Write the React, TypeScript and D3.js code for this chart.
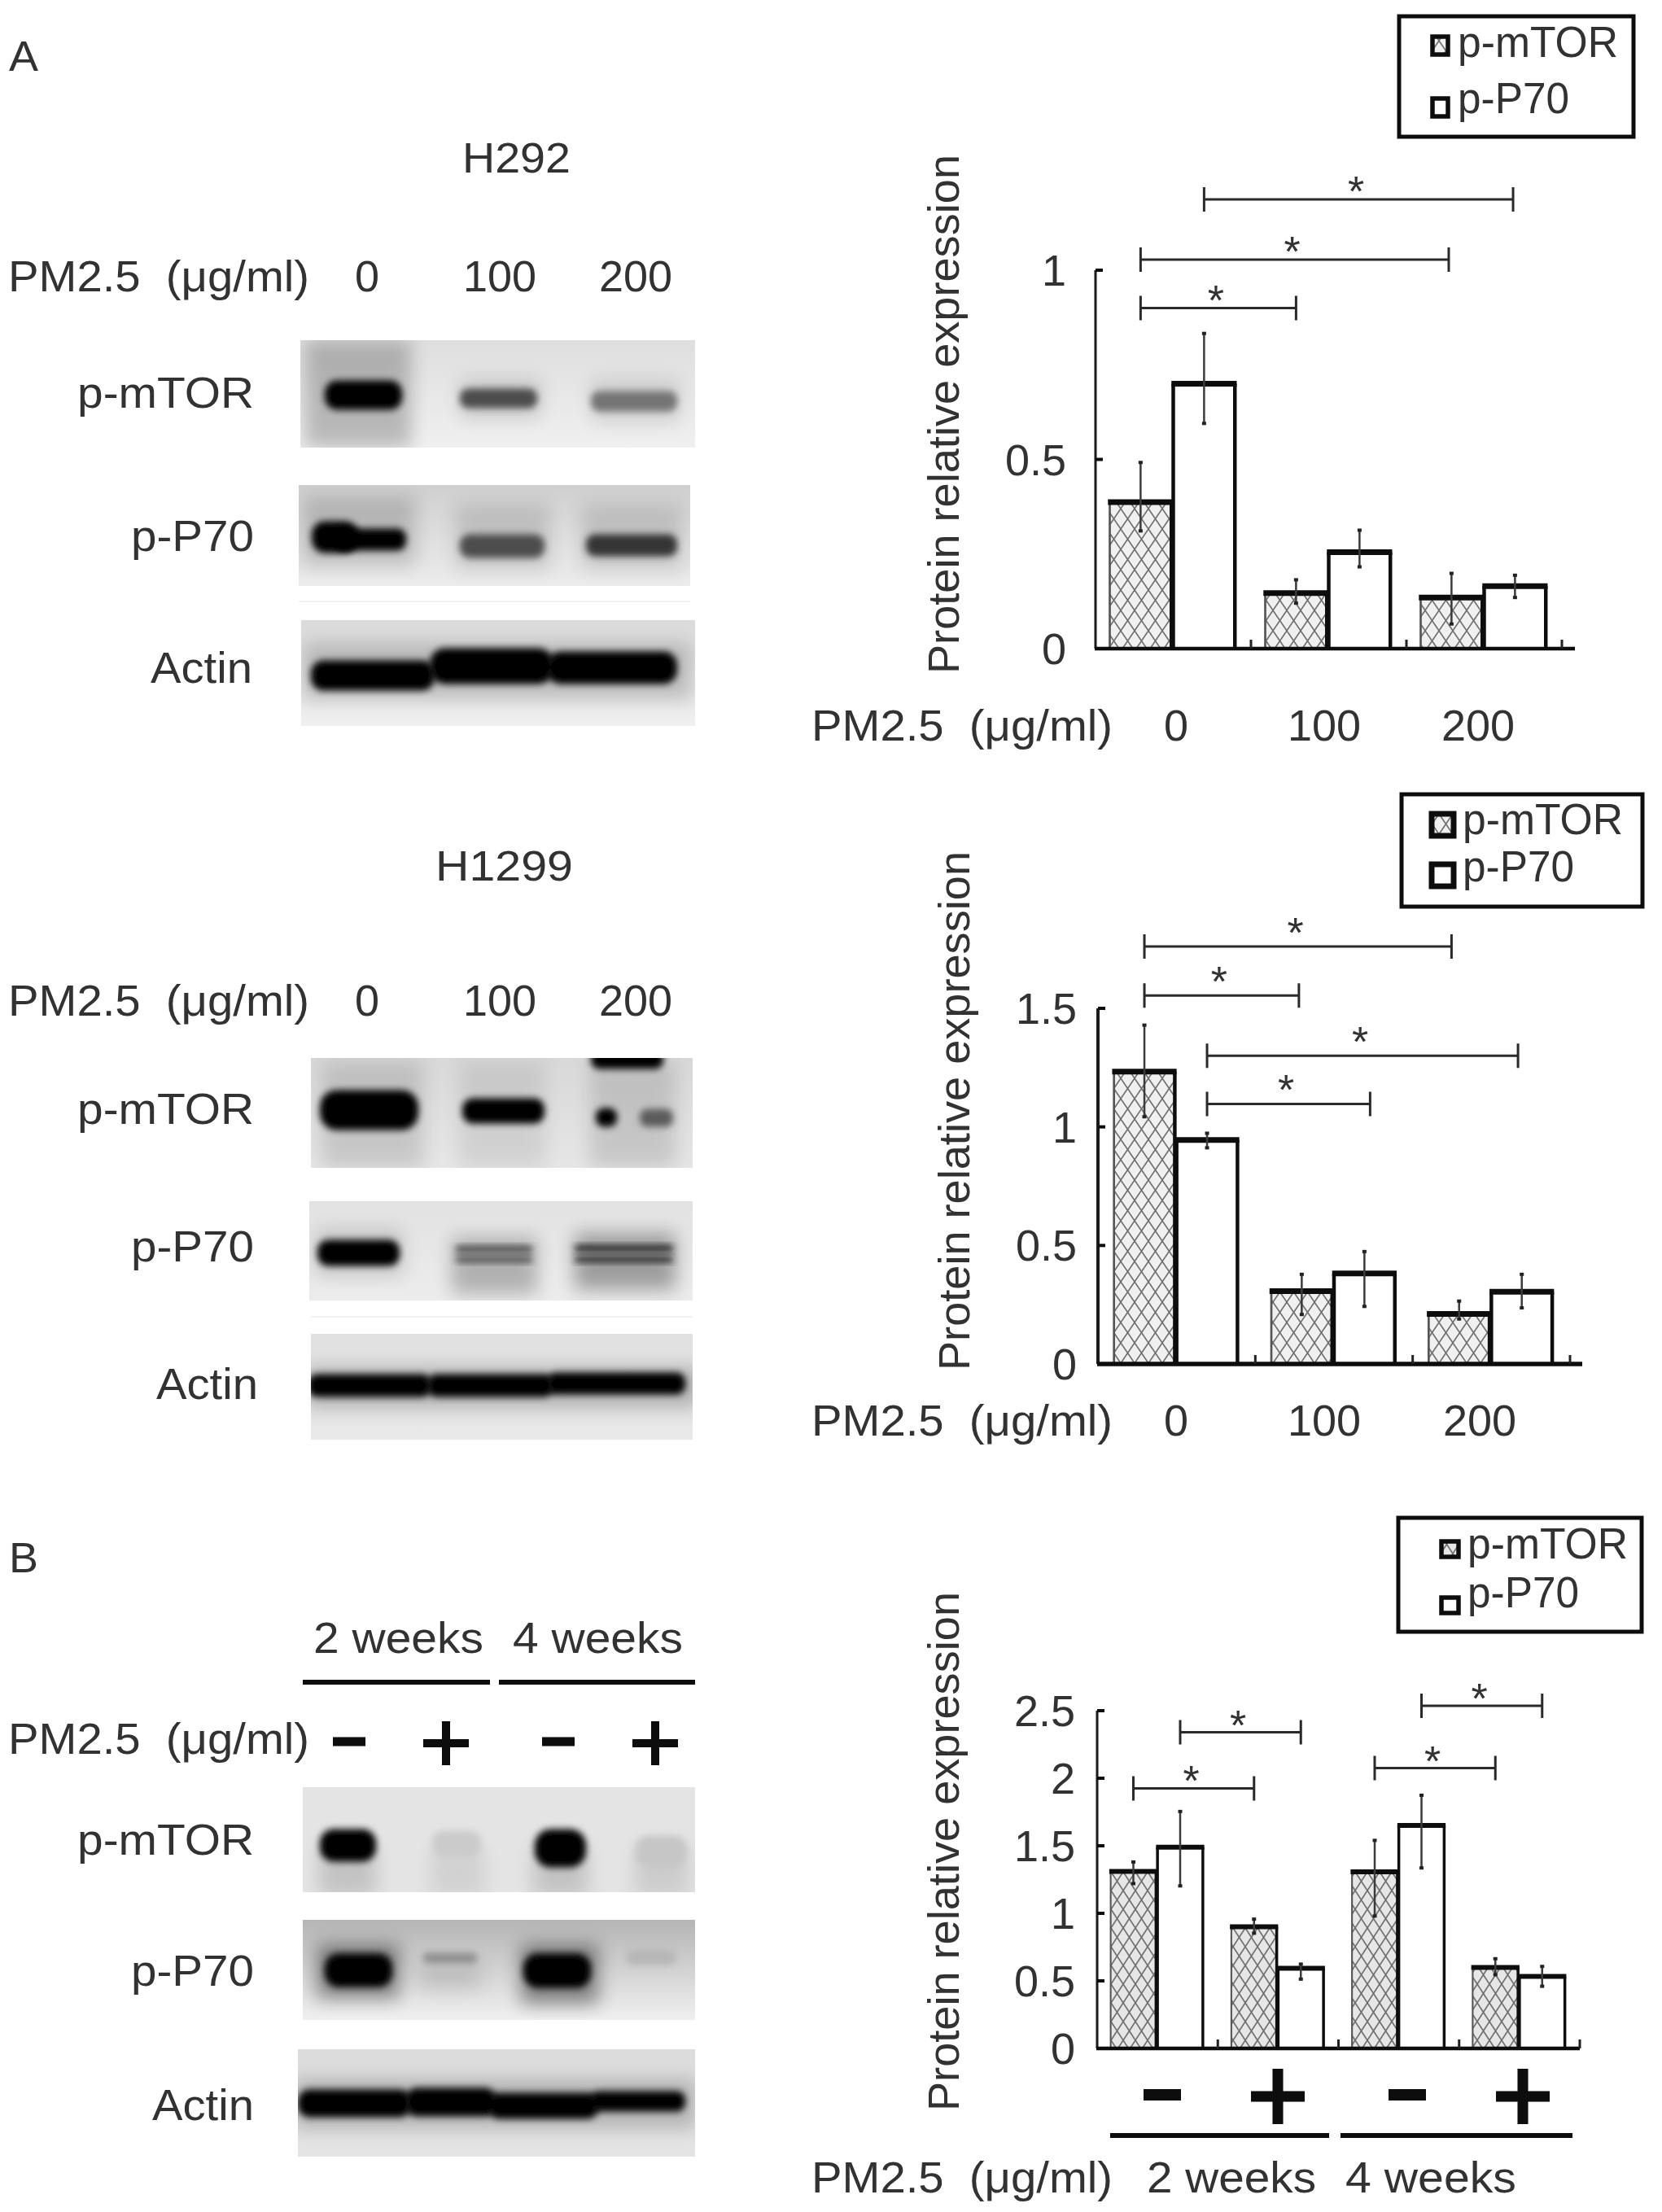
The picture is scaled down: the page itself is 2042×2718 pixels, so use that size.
import React from 'react';
import * as d3 from 'd3';

// ---- data ----
const doseGroups = ['0', '100', '200'];
const timeGroups = ['2w-', '2w+', '4w-', '4w+'];
const seriesNames = ['p-mTOR', 'p-P70'];

const h292Mtor = [0.387, 0.147, 0.135];
const h292P70 = [0.70, 0.255, 0.165];
const h292MtorLow = [0.31, 0.119, 0.064];
const h292MtorHigh = [0.493, 0.183, 0.2];
const h292P70Low = [0.594, 0.215, 0.134];
const h292P70High = [0.834, 0.314, 0.195];

const h1299Mtor = [1.233, 0.307, 0.211];
const h1299P70 = [0.945, 0.382, 0.305];
const h1299MtorLow = [1.041, 0.207, 0.188];
const h1299MtorHigh = [1.431, 0.38, 0.267];
const h1299P70Low = [0.91, 0.241, 0.235];
const h1299P70High = [0.975, 0.476, 0.38];

const timeMtor = [1.31, 0.9, 1.307, 0.6];
const timeP70 = [1.49, 0.593, 1.65, 0.533];
const timeMtorLow = [1.217, 0.85, 0.977, 0.543];
const timeMtorHigh = [1.383, 0.96, 1.543, 0.667];
const timeP70Low = [1.2, 0.51, 1.333, 0.457];
const timeP70High = [1.757, 0.627, 1.877, 0.61];

const h292Ticks = [0, 0.5, 1];
const h1299Ticks = [0, 0.5, 1, 1.5];
const timeTicks = [0, 0.5, 1, 1.5, 2, 2.5];

// [from bar position, to bar position, level in y units]
const h292Sig = [[1, 4.97, 1.187], [0, 3.97, 1.028], [0, 2, 0.9]];
const h1299Sig = [[0, 3.92, 1.761], [0, 1.97, 1.554], [1, 4.94, 1.3], [1, 3.06, 1.097]];
const timeSig = [[0, 2, 1.925], [1, 3, 2.34], [4, 6, 2.075], [5, 7, 2.536]];

// band darkness of the blots, 0 to 1
const h292MtorBands = [1, 0.68, 0.52];
const h292P70Bands = [1, 0.68, 0.78];
const h292ActinBands = [1, 1, 1];
const h1299MtorBands = [1, 1, 1, 0.62, 1];
const h1299P70Bands = [1, 0.72, 0.85];
const h1299ActinBands = [1, 1, 1];
const timeMtorBands = [1, 0.16, 1, 0.18];
const timeP70Bands = [1, 0.42, 1, 0.25];
const timeActinBands = [1, 1, 1, 1];

const FONT = '"Liberation Sans", Arial, sans-serif';
const INK = '#303030';
const dark = d3.scaleLinear<string>().domain([0, 1]).range(['#f2f2f2', '#000000']);

type TxtProps = { x: number; y: number; len?: number; size?: number; anchor?: string; rot?: boolean; children: any };
const Txt = ({ x, y, len, size = 54, anchor = 'start', rot, children }: TxtProps) => (
  <text
    x={rot ? 0 : x}
    y={rot ? 0 : y}
    transform={rot ? `translate(${x},${y}) rotate(-90)` : undefined}
    fontFamily={FONT}
    fontSize={size}
    fill={INK}
    textAnchor={anchor}
    textLength={len}
    lengthAdjust={len ? 'spacingAndGlyphs' : undefined}
    style={{ whiteSpace: 'pre' }}
  >
    {children}
  </text>
);

type ChartProps = {
  id: string;
  groups: string[];
  mtor: number[]; p70: number[];
  mtorLow: number[]; mtorHigh: number[]; p70Low: number[]; p70High: number[];
  ticks: number[]; sig: number[][];
  domainMax: number;
  axisX: number; bandEnd: number; axisEnd: number; barStep: number;
  yTop: number; yZero: number;
  side: number; top: number; axisW: number; starGap: number;
  labelX: number; labelY: number; labelRight: number;
  legend: { x0: number; x1: number; y0: number; y1: number; sx0: number; sx1: number; sy: number[]; sh: number; tx: number; ty: number[]; sw: number; textLen: number[] };
  patternId: string;
};

const BarChart = (p: ChartProps) => {
  const y = d3.scaleLinear().domain([0, p.domainMax]).range([p.yZero, p.yTop]);
  const x0 = d3.scaleBand<string>().domain(p.groups).range([p.axisX, p.bandEnd]);
  const inset = (x0.bandwidth() - 2 * p.barStep) / 2;
  const x1 = d3.scaleBand<string>().domain(seriesNames).range([inset, inset + 2 * p.barStep]);
  const barW = x1.bandwidth() - p.side * 0.5;
  const series = [
    { name: seriesNames[0], v: p.mtor, lo: p.mtorLow, hi: p.mtorHigh },
    { name: seriesNames[1], v: p.p70, lo: p.p70Low, hi: p.p70High },
  ];
  const barCenter = (i: number) => {
    const g = p.groups[Math.floor(i / 2)];
    return (x0(g) as number) + (x1(seriesNames[i % 2]) as number) + barW / 2;
  };
  const center = (pos: number) => {
    const a = Math.floor(pos);
    const b = Math.min(a + 1, p.groups.length * 2 - 1);
    return barCenter(a) + (barCenter(b) - barCenter(a)) * (pos - a);
  };
  return (
    <g>
      {series.map((s, si) =>
        p.groups.map((g, gi) => {
          const left = (x0(g) as number) + (x1(s.name) as number);
          const yy = y(s.v[gi]);
          const cx = left + barW / 2;
          return (
            <g key={s.name + g}>
              <rect x={left} y={yy} width={barW} height={p.yZero - yy} fill={si === 0 ? `url(#${p.patternId})` : '#fff'} />
              <path
                d={`M${left},${p.yZero}V${yy}`}
                stroke={si === 0 ? '#555' : '#111'}
                strokeWidth={si === 0 ? p.side * 0.6 : p.side}
                fill="none"
              />
              <path d={`M${left + barW},${p.yZero}V${yy}`} stroke="#111" strokeWidth={p.side} fill="none" />
              <path d={`M${left - p.side / 2},${yy}H${left + barW + p.side / 2}`} stroke="#111" strokeWidth={p.top} fill="none" />
              <path d={`M${cx},${y(s.lo[gi])}V${y(s.hi[gi])}`} stroke="#3a3a3a" strokeWidth={2.5} fill="none" />
              <rect x={cx - 2.5} y={y(s.hi[gi]) - 1.5} width={5} height={4} fill="#222" />
              <rect x={cx - 2.5} y={y(s.lo[gi]) - 2.5} width={5} height={4} fill="#222" />
            </g>
          );
        })
      )}
      {/* axes */}
      <path d={`M${p.axisX},${p.yZero}V${p.yTop}`} stroke="#1a1a1a" strokeWidth={p.axisW} fill="none" />
      <path d={`M${p.axisX - 1},${p.yZero}H${p.axisEnd}`} stroke="#111" strokeWidth={p.axisW + 1.5} fill="none" />
      {p.ticks.map((t) => (
        <g key={t}>
          {t > 0 && <path d={`M${p.axisX},${y(t)}h9`} stroke="#111" strokeWidth={4} fill="none" />}
          <Txt x={p.labelRight} y={y(t) + 19} anchor="end" size={54}>{String(t)}</Txt>
        </g>
      ))}
      {p.groups.map((g) => (
        <path key={g} d={`M${(x0(g) as number) + x0.step()},${p.yZero}v-11`} stroke="#222" strokeWidth={3} fill="none" />
      ))}
      <Txt x={p.labelX} y={p.labelY} rot anchor="middle" len={638}>Protein relative expression</Txt>
      {/* significance brackets */}
      {p.sig.map(([a, b, lv]) => {
        const ya = y(lv);
        const xa = center(a);
        const xb = center(b);
        return (
          <g key={`${a}-${b}`}>
            <path d={`M${xa},${ya}H${xb}M${xa},${ya - 15}V${ya + 15}M${xb},${ya - 15}V${ya + 15}`} stroke="#2a2a2a" strokeWidth={3} fill="none" />
            <Txt x={(xa + xb) / 2 - 3} y={ya - p.starGap + 30} anchor="middle" size={52}>*</Txt>
          </g>
        );
      })}
      {/* legend */}
      <rect x={p.legend.x0} y={p.legend.y0} width={p.legend.x1 - p.legend.x0} height={p.legend.y1 - p.legend.y0} fill="#fff" stroke="#111" strokeWidth={5} />
      {seriesNames.map((n, i) => (
        <g key={n}>
          <rect
            x={p.legend.sx0}
            y={p.legend.sy[i]}
            width={p.legend.sx1 - p.legend.sx0}
            height={p.legend.sh}
            fill={i === 0 ? `url(#${p.patternId})` : '#fff'}
            stroke="#111"
            strokeWidth={p.legend.sw}
          />
          <Txt x={p.legend.tx} y={p.legend.ty[i]} len={p.legend.textLen[i]}>{n}</Txt>
        </g>
      ))}
    </g>
  );
};

type BandSpec = number[];
type BlotSpec = { x: number; y: number; w: number; h: number; top: string; bottom: string; bands: BandSpec[]; smears: BandSpec[] };

const GROW = 2.5;
const Blot = ({ id, b }: { id: string; b: BlotSpec }) => (
  <g>
    <defs>
      <clipPath id={`clip-${id}`}><rect x={b.x} y={b.y} width={b.w} height={b.h} /></clipPath>
      <linearGradient id={`grad-${id}`} x1="0" y1="0" x2="0" y2="1">
        <stop offset="0" stopColor={b.top} />
        <stop offset="1" stopColor={b.bottom} />
      </linearGradient>
    </defs>
    <g clipPath={`url(#clip-${id})`}>
      <rect x={b.x} y={b.y} width={b.w} height={b.h} fill={`url(#grad-${id})`} />
      {b.smears.map((s, i) => (
        <rect key={i} x={s[0]} y={s[2]} width={s[1] - s[0]} height={s[3] - s[2]} fill="#000" opacity={s[4]} filter="url(#blurWide)" />
      ))}
      {b.bands.map((s, i) => {
        const h = s[3] - s[2] + (s[3] - s[2] > 12 ? GROW * 2 : 0);
        const yy = s[3] - s[2] > 12 ? s[2] - GROW : s[2];
        return (
          <rect
            key={i}
            x={s[0]}
            y={yy}
            width={s[1] - s[0]}
            height={h}
            rx={h * 0.42}
            fill={dark(s[4])}
            filter="url(#blurBand)"
          />
        );
      })}
    </g>
  </g>
);

const blotsH292: BlotSpec[] = [
  { x: 369, y: 418, w: 485, h: 132, top: '#dedede', bottom: '#f0f0f0',
    bands: [[399, 494, 470, 501, h292MtorBands[0]], [565, 660, 480, 499, h292MtorBands[1]], [726, 832, 483, 503, h292MtorBands[2]]],
    smears: [[375, 505, 418, 550, 0.22], [565, 665, 465, 515, 0.12], [726, 835, 465, 520, 0.1]] },
  { x: 367, y: 596, w: 481, h: 124, top: '#cfcfcf', bottom: '#ececec',
    bands: [[383, 440, 643, 677, h292P70Bands[0]], [410, 499, 652, 674, h292P70Bands[0]], [565, 669, 659, 683, h292P70Bands[1]], [720, 832, 659, 681, h292P70Bands[2]]],
    smears: [[372, 510, 610, 695, 0.16], [560, 675, 620, 700, 0.12], [715, 838, 620, 700, 0.12]] },
  { x: 370, y: 762, w: 484, h: 130, top: '#dadada', bottom: '#f0f0f0',
    bands: [[382, 534, 814, 846, h292ActinBands[0]], [528, 680, 799, 838, h292ActinBands[1]], [672, 832, 803, 838, h292ActinBands[2]]],
    smears: [[372, 850, 790, 860, 0.18]] },
];

const blotsH1299: BlotSpec[] = [
  { x: 382, y: 1300, w: 469, h: 135, top: '#d8d8d8', bottom: '#e6e6e6',
    bands: [[393, 514, 1342, 1386, h1299MtorBands[0]], [568, 669, 1352, 1378, h1299MtorBands[1]], [732, 758, 1364, 1382, h1299MtorBands[2]], [786, 827, 1365, 1382, h1299MtorBands[3]], [726, 815, 1292, 1311, h1299MtorBands[4]]],
    smears: [[395, 520, 1305, 1435, 0.12], [565, 670, 1305, 1435, 0.08], [725, 830, 1305, 1435, 0.12]] },
  { x: 380, y: 1476, w: 471, h: 122, top: '#e2e2e2', bottom: '#ececec',
    bands: [[390, 491, 1526, 1553, h1299P70Bands[0]], [560, 654, 1531, 1539, h1299P70Bands[1]], [560, 654, 1544, 1551, h1299P70Bands[1]], [706, 827, 1530, 1538, h1299P70Bands[2]], [706, 827, 1544, 1551, h1299P70Bands[2]]],
    smears: [[388, 495, 1510, 1568, 0.14], [555, 660, 1520, 1590, 0.24], [706, 830, 1515, 1585, 0.32]] },
  { x: 382, y: 1639, w: 469, h: 130, top: '#e0e0e0', bottom: '#e9e9e9',
    bands: [[378, 530, 1691, 1714, h1299ActinBands[0]], [525, 680, 1691, 1714, h1299ActinBands[1]], [672, 842, 1689, 1711, h1299ActinBands[2]]],
    smears: [[375, 860, 1680, 1730, 0.22]] },
];

const blotsTime: BlotSpec[] = [
  { x: 372, y: 2196, w: 482, h: 129, top: '#e4e4e4', bottom: '#e4e4e4',
    bands: [[393, 462, 2250, 2285, timeMtorBands[0]], [531, 591, 2252, 2280, timeMtorBands[1]], [657, 720, 2250, 2292, timeMtorBands[2]], [781, 844, 2258, 2292, timeMtorBands[3]]],
    smears: [[392, 462, 2270, 2330, 0.14], [655, 722, 2270, 2330, 0.14], [530, 595, 2270, 2330, 0.08], [780, 846, 2270, 2330, 0.1]] },
  { x: 372, y: 2359, w: 482, h: 123, top: '#b4b4b4', bottom: '#f0f0f0',
    bands: [[399, 482, 2403, 2439, timeP70Bands[0]], [520, 586, 2400, 2412, timeP70Bands[1]], [643, 726, 2403, 2440, timeP70Bands[2]], [770, 830, 2398, 2412, timeP70Bands[3]]],
    smears: [[390, 490, 2390, 2455, 0.42], [640, 735, 2390, 2462, 0.42], [515, 590, 2410, 2445, 0.1]] },
  { x: 366, y: 2518, w: 488, h: 132, top: '#dcdcdc', bottom: '#e4e4e4',
    bands: [[366, 505, 2570, 2599, timeActinBands[0]], [498, 610, 2568, 2598, timeActinBands[1]], [600, 735, 2574, 2601, timeActinBands[2]], [725, 842, 2572, 2592, timeActinBands[3]]],
    smears: [[360, 855, 2555, 2615, 0.2]] },
];

const RowLabels = ({ ys, rights }: { ys: number[]; rights: number[] }) => (
  <g>
    <Txt x={rights[0]} y={ys[0]} anchor="end" len={217}>p-mTOR</Txt>
    <Txt x={rights[1]} y={ys[1]} anchor="end" len={151}>p-P70</Txt>
    <Txt x={rights[2]} y={ys[2]} anchor="end" len={125}>Actin</Txt>
  </g>
);

const PM = ({ x, y }: { x: number; y: number }) => (
  <Txt x={x} y={y} len={370}>{'PM2.5  (μg/ml)'}</Txt>
);

const Sign = ({ cx, cy, w, t, h }: { cx: number; cy: number; w: number; t: number; h?: number }) => (
  <g fill="#0a0a0a">
    <rect x={cx - w / 2} y={cy - t / 2} width={w} height={t} />
    {h && <rect x={cx - t / 2} y={cy - h / 2} width={t} height={h} />}
  </g>
);

export default function App() {
  const doseXs = [451, 614, 781];
  return (
    <svg width={2042} height={2718} viewBox="0 0 2042 2718" style={{ position: 'absolute', left: 0, top: 0, background: '#fff' }}>
      <defs>
        <filter id="blurBand" x="-30%" y="-60%" width="160%" height="220%"><feGaussianBlur stdDeviation="4.5" /></filter>
        <filter id="blurWide" x="-40%" y="-60%" width="180%" height="220%"><feGaussianBlur stdDeviation="11" /></filter>
        <filter id="soft" x="0" y="0" width="2042" height="2718" filterUnits="userSpaceOnUse"><feGaussianBlur stdDeviation="0.7" /></filter>
        <pattern id="hatchA" width="17" height="25" patternUnits="userSpaceOnUse">
          <rect width="17" height="25" fill="#f0f0f0" />
          <path d="M0,0L17,25M17,0L0,25" stroke="#6e6e6e" strokeWidth="1.6" />
        </pattern>
        <pattern id="hatchB" width="15" height="23" patternUnits="userSpaceOnUse">
          <rect width="15" height="23" fill="#e6e6e6" />
          <path d="M0,0L15,23M15,0L0,23" stroke="#6e6e6e" strokeWidth="1.7" />
        </pattern>
      </defs>
      <g filter="url(#soft)">
        <Txt x={11} y={87} len={36} size={52}>A</Txt>
        <Txt x={11} y={1932} len={36} size={52}>B</Txt>

        {/* H292 blots */}
        <Txt x={568} y={212} len={133} size={52}>H292</Txt>
        <PM x={10} y={358} />
        {doseGroups.map((d, i) => <Txt key={d} x={doseXs[i]} y={358} anchor="middle">{d}</Txt>)}
        {blotsH292.map((b, i) => <Blot key={i} id={`a${i}`} b={b} />)}
        <path d="M367,739H848" stroke="#f1f1f1" strokeWidth={2} />
        <RowLabels ys={[501, 677, 839]} rights={[312, 312, 310]} />

        {/* H1299 blots */}
        <Txt x={535} y={1082} len={169} size={52}>H1299</Txt>
        <PM x={10} y={1248} />
        {doseGroups.map((d, i) => <Txt key={d} x={doseXs[i]} y={1248} anchor="middle">{d}</Txt>)}
        {blotsH1299.map((b, i) => <Blot key={i} id={`b${i}`} b={b} />)}
        <path d="M382,1618H851" stroke="#f1f1f1" strokeWidth={2} />
        <RowLabels ys={[1381, 1550, 1719]} rights={[312, 312, 317]} />

        {/* Time-course blots */}
        <Txt x={385} y={2031} len={209}>2 weeks</Txt>
        <Txt x={630} y={2031} len={209}>4 weeks</Txt>
        <path d="M372,2067H602M613,2067H854" stroke="#111" strokeWidth={6} />
        <PM x={10} y={2155} />
        <Sign cx={429} cy={2140} w={40} t={11} />
        <Sign cx={548} cy={2142} w={56} t={10} h={54} />
        <Sign cx={686} cy={2140} w={40} t={11} />
        <Sign cx={805} cy={2142} w={56} t={10} h={54} />
        {blotsTime.map((b, i) => <Blot key={i} id={`c${i}`} b={b} />)}
        <RowLabels ys={[2279, 2440, 2605]} rights={[312, 312, 312]} />

        {/* H292 chart */}
        <BarChart
          id="h292" groups={doseGroups} mtor={h292Mtor} p70={h292P70}
          mtorLow={h292MtorLow} mtorHigh={h292MtorHigh} p70Low={h292P70Low} p70High={h292P70High}
          ticks={h292Ticks} sig={h292Sig} domainMax={1}
          axisX={1346} bandEnd={1919} axisEnd={1935} barStep={78}
          yTop={332} yZero={797} side={4.5} top={7} axisW={3} starGap={22}
          labelX={1178} labelY={509} labelRight={1310} patternId="hatchA"
          legend={{ x0: 1719, x1: 2007, y0: 20, y1: 168, sx0: 1760, sx1: 1779, sy: [45, 121], sh: 22, tx: 1791, ty: [70, 139], sw: 5.5, textLen: [197, 137] }}
        />
        <PM x={997} y={910} />
        {doseGroups.map((d, i) => <Txt key={d} x={[1445, 1627, 1816][i]} y={910} anchor="middle">{d}</Txt>)}

        {/* H1299 chart */}
        <BarChart
          id="h1299" groups={doseGroups} mtor={h1299Mtor} p70={h1299P70}
          mtorLow={h1299MtorLow} mtorHigh={h1299MtorHigh} p70Low={h1299P70Low} p70High={h1299P70High}
          ticks={h1299Ticks} sig={h1299Sig} domainMax={1.5}
          axisX={1349} bandEnd={1929} axisEnd={1944} barStep={77}
          yTop={1239} yZero={1676} side={4.5} top={7} axisW={4} starGap={29}
          labelX={1191} labelY={1365} labelRight={1323} patternId="hatchA"
          legend={{ x0: 1722, x1: 2018, y0: 976, y1: 1114, sx0: 1759, sx1: 1786, sy: [1000, 1062], sh: 27, tx: 1797, ty: [1025, 1083], sw: 7, textLen: [197, 137] }}
        />
        <PM x={997} y={1764} />
        {doseGroups.map((d, i) => <Txt key={d} x={[1445, 1627, 1818][i]} y={1764} anchor="middle">{d}</Txt>)}

        {/* Time-course chart */}
        <BarChart
          id="time" groups={timeGroups} mtor={timeMtor} p70={timeP70}
          mtorLow={timeMtorLow} mtorHigh={timeMtorHigh} p70Low={timeP70Low} p70High={timeP70High}
          ticks={timeTicks} sig={timeSig} domainMax={2.5}
          axisX={1348} bandEnd={1941} axisEnd={1941} barStep={57.5}
          yTop={2102} yZero={2517} side={3.5} top={6} axisW={3} starGap={21}
          labelX={1178} labelY={2275} labelRight={1321} patternId="hatchB"
          legend={{ x0: 1718, x1: 2017, y0: 1865, y1: 2005, sx0: 1771, sx1: 1792, sy: [1894, 1963], sh: 19, tx: 1803, ty: [1915, 1975], sw: 5.5, textLen: [197, 137] }}
        />
        <Sign cx={1428} cy={2574} w={46} t={14} />
        <Sign cx={1570} cy={2576} w={66} t={13} h={68} />
        <Sign cx={1729} cy={2574} w={46} t={14} />
        <Sign cx={1871} cy={2576} w={66} t={13} h={68} />
        <path d="M1364,2624H1633M1647,2624H1932" stroke="#111" strokeWidth={6} />
        <PM x={997} y={2694} />
        <Txt x={1409} y={2694} len={208}>2 weeks</Txt>
        <Txt x={1653} y={2694} len={210}>4 weeks</Txt>
      </g>
    </svg>
  );
}
